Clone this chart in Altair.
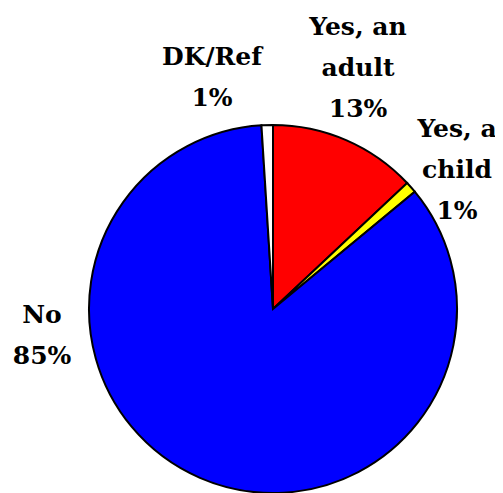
import altair as alt
import pandas as pd

# Data
categories = ["Yes, an adult", "Yes, a child", "No", "DK/Ref"]
values = [13, 1, 85, 1]
colors = ["#FF0000", "#FFFF00", "#0000FF", "#FFFFFF"]
label_lines = [["Yes, an", "adult"], ["Yes, a", "child"], ["No"], ["DK/Ref"]]

# Layout (chart coordinates, page minus 8px margin)
CX, CY, R = 265, 301, 184
label_anchor = {  # x center, baseline of first line
    "Yes, an adult": (350, 27),
    "Yes, a child": (449, 129),
    "No": (34, 315),
    "DK/Ref": (204, 57),
}
LINE_GAP = 41

df = pd.DataFrame({"category": categories, "value": values, "order": range(len(categories))})

rows = []
for cat, v, lines in zip(categories, values, label_lines):
    ax, ay = label_anchor[cat]
    for i, t in enumerate(lines + [f"{v}%"]):
        rows.append({"text": t, "lx": ax, "ly": ay + i * LINE_GAP})
labels = pd.DataFrame(rows)

pie = alt.Chart(df).mark_arc(radius=R, stroke="black", strokeWidth=2).encode(
    theta=alt.Theta("value:Q", stack=True),
    order=alt.Order("order:Q"),
    color=alt.Color("category:N", scale=alt.Scale(domain=categories, range=colors), legend=None),
    x=alt.value(CX),
    y=alt.value(CY),
)

text = alt.Chart(labels).mark_text(
    font="DejaVu Serif",
    fontWeight="bold", fontSize=25, color="black",
    align="center", baseline="alphabetic",
).encode(
    x=alt.X("lx:Q", scale=None),
    y=alt.Y("ly:Q", scale=None),
    text="text:N",
)

chart = alt.layer(pie, text).properties(
    width=487, height=485, autosize=alt.AutoSizeParams(type="none"), padding=0
).configure_view(stroke=None)

chart.save("out.html", embed_options={"renderer": "svg", "actions": False})
